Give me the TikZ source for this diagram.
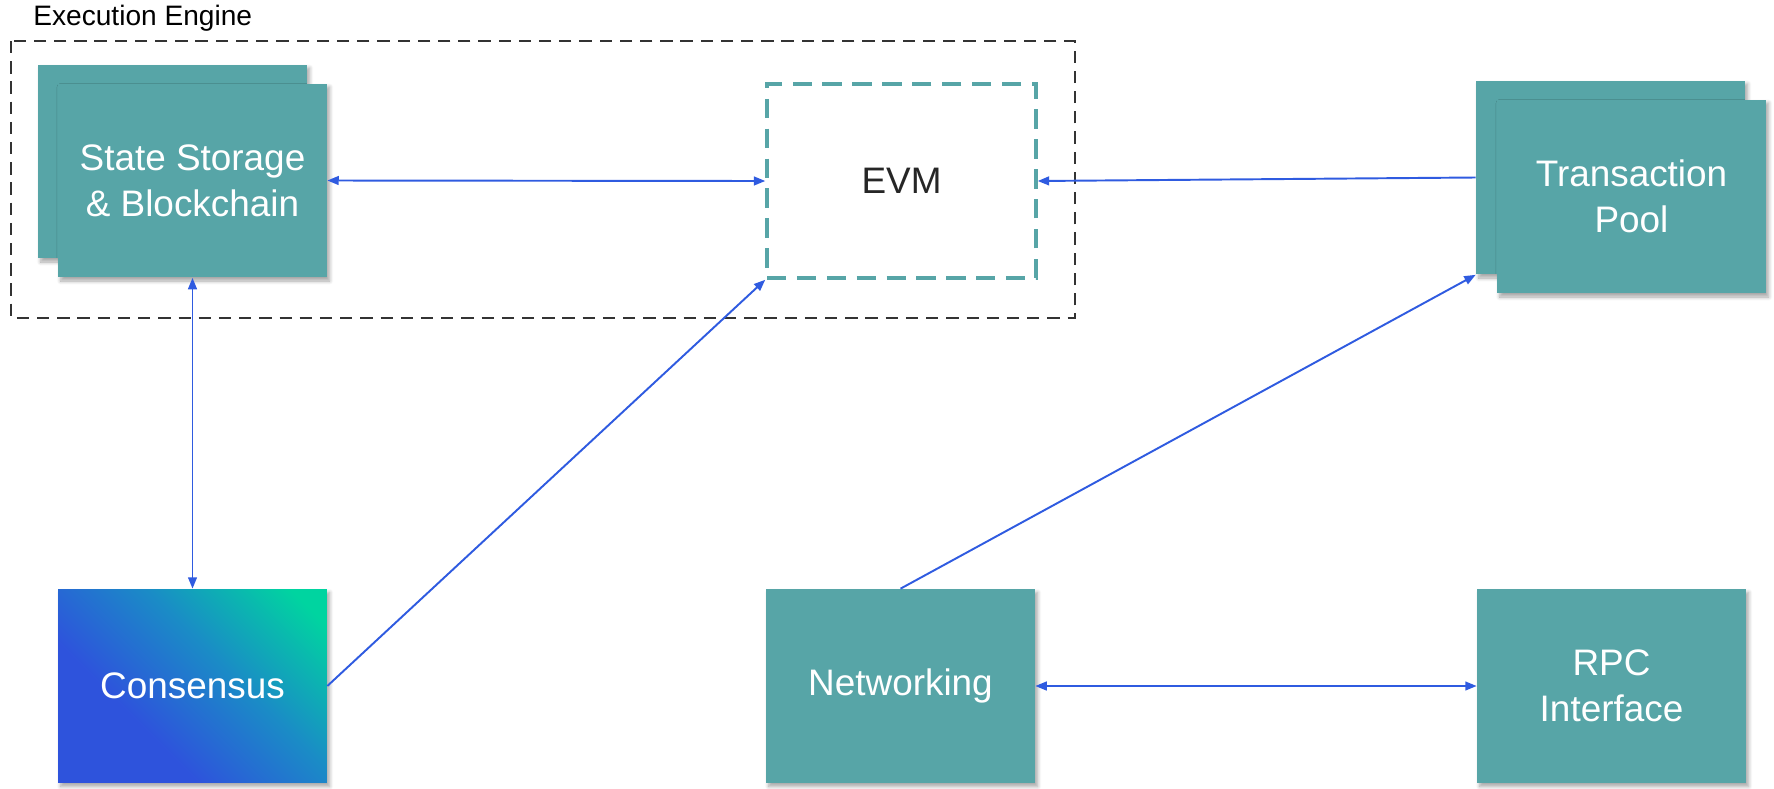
\documentclass[tikz,border=0pt]{standalone}
\usepackage{fontspec}
\setmainfont{Liberation Sans}
\usetikzlibrary{arrows.meta,shadows.blur}

\definecolor{tealbox}{HTML}{57A5A7}
\definecolor{linkblue}{HTML}{2F5BE0}
\definecolor{consblue}{HTML}{2E53DC}
\definecolor{consmid}{HTML}{1A8CC6}
\definecolor{consgreen}{HTML}{00D4A0}
\definecolor{framegray}{HTML}{333333}
\pgfdeclarehorizontalshading{consshade}{100bp}{color(0bp)=(consblue); color(36bp)=(consblue); color(58bp)=(consmid); color(80bp)=(consgreen); color(100bp)=(consgreen)}

\begin{document}
\begin{tikzpicture}[x=0.02cm, y=-0.02cm]
    % Define styles
    \tikzset{
        module/.style={fill=tealbox, text=white, inner sep=0pt, align=center,
            minimum width=5.38cm, minimum height=3.88cm,
            font=\fontsize{21}{26}\selectfont,
            blur shadow={shadow xshift=1.5pt, shadow yshift=-2pt, shadow blur steps=6, shadow opacity=35}},
        vmbox/.style={draw=tealbox, line width=2pt, dash pattern=on 11pt off 6pt,
            minimum width=5.38cm, minimum height=3.88cm, inner sep=0pt,
            font=\fontsize{21}{26}\selectfont, text=black!85},
        enginebox/.style={draw=framegray, line width=0.9pt, dash pattern=on 7pt off 4.5pt},
        enginetitle/.style={anchor=west, inner sep=0pt, font=\fontsize{16}{19}\selectfont},
        link/.style={linkblue, line width=1.1pt, -{Triangle[length=6.5pt, width=5pt]}},
        duplex/.style={link, {Triangle[length=6.5pt, width=5pt]}-{Triangle[length=6.5pt, width=5pt]}}
    }

    \useasboundingbox (0,0) rectangle (1774,788);

    % Execution engine frame
    \draw[enginebox] (11,41) rectangle (1075,318);
    \node[enginetitle] (title) at (33,18) {Execution Engine};

    % Modules
    \node[module] (statebg) at (172.5,161.5) {};
    \node[module] (state) at (192.5,180.5) {State Storage\\\& Blockchain};
    \node[vmbox] (evm) at (901.5,181) {EVM};

    \node[module] (poolbg) at (1610.5,177.5) {};
    \node[module] (pool) at (1631.5,196.5) {Transaction\\Pool};

    \node[module, shading=consshade, shading angle=45] (consensus) at (192.5,686) {Consensus};
    \node[module] (net) at (900.5,686) {Networking};
    \node[module] (rpc) at (1611.5,686) {RPC\\Interface};

    % Connections
    \draw[duplex] (state.east) -- (evm.west);
    \draw[duplex] (state.south) -- (consensus.north);
    \draw[link] (consensus.east) -- (evm.south west);
    \draw[link] (poolbg.west) -- (evm.east);
    \draw[link] (net.north) -- (poolbg.south west);
    \draw[duplex] (net.east) -- (rpc.west);

\end{tikzpicture}
\end{document}
